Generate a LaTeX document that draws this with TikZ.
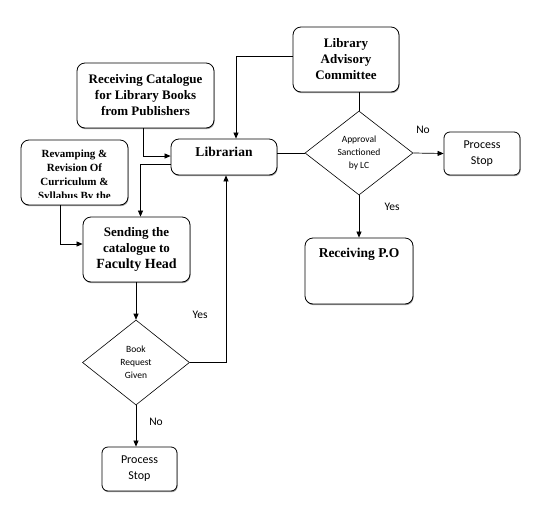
\documentclass[tikz,border=0pt]{standalone}
\usepackage{fontspec}
\setmainfont{Liberation Serif}
\newfontfamily\calib{Carlito}
\usetikzlibrary{shapes.geometric,arrows.meta,shadows}
\begin{document}
\begin{tikzpicture}[x=1pt,y=-1pt,
  box/.style={draw, rounded corners=8pt, line width=0.8pt, align=center, inner sep=0pt,
    font=\bfseries\fontsize{13}{16}\selectfont,
    drop shadow={shadow xshift=0.6pt, shadow yshift=-1.2pt, fill=black!55, opacity=0.7}, fill=white},
  sbox/.style={draw, rounded corners=6pt, line width=0.8pt, align=center, inner sep=0pt,
    font=\calib\fontsize{12}{16}\selectfont,
    drop shadow={shadow xshift=0.6pt, shadow yshift=-1.2pt, fill=black!55, opacity=0.7}, fill=white},
  dia/.style={draw, diamond, inner sep=0pt, line width=0.6pt, align=center,
    font=\calib\fontsize{9.5}{13}\selectfont},
  arr/.style={-{Triangle[length=6pt,width=5pt]}, line width=0.7pt},
  ln/.style={line width=0.7pt},
  lbl/.style={font=\calib\fontsize{11.5}{14}\selectfont, inner sep=0pt}]
\useasboundingbox (0,0) rectangle (536,512);

\node[box, minimum width=106, minimum height=65] (lac) at (346,59.5) {Library\\Advisory\\Committee};
\node[box, minimum width=137, minimum height=65] (rc) at (145.5,95.5) {Receiving Catalogue\\for Library Books\\from Publishers};
\node[box, minimum width=106, minimum height=36,
  label={[anchor=north, yshift=-5pt, font=\bfseries\fontsize{13.5}{16}\selectfont]north:Librarian}] (lib) at (224,157) {};
\node[box, minimum width=107, minimum height=65] (rev) at (74.5,172.5) {};
\begin{scope}
  \clip (rev.north west) rectangle ([yshift=7.5pt]rev.south east);
  \node[font=\bfseries\fontsize{11}{14}\selectfont, align=center, anchor=north, inner sep=0pt] (revt) at (74.5,150)
    {Revamping \&\\Revision Of\\Curriculum \&\\Syllabus By the};
\end{scope}
\node[box, minimum width=107, minimum height=65] (send) at (136.5,249.5) {Sending the\\catalogue to\\{\fontsize{14}{16}\selectfont Faculty Head}};
\node[dia, minimum width=107, minimum height=85] (bq) at (136,362.5) {Book\\Request\\Given};
\node[sbox, minimum width=75, minimum height=44] (ps1) at (139.5,469) {Process\\Stop};
\node[dia, minimum width=108, minimum height=84] (ap) at (359,153) {Approval\\Sanctioned\\by LC};
\node[sbox, minimum width=76, minimum height=43] (ps2) at (482,153.5) {Process\\Stop};
\node[box, minimum width=108, minimum height=66,
  label={[anchor=north, yshift=-7pt, font=\bfseries\fontsize{13.5}{16}\selectfont]north:Receiving P.O}] (po) at (359,271) {};

\draw[ln] (lac.south -| ap.north) -- (ap.north);
\draw[arr] ([yshift=3.5pt]lac.west) -| ([xshift=12pt]lib.north);
\draw[arr] ([xshift=-2.5pt]rc.south) |- ([yshift=1pt]lib.west);
\draw[arr] ([yshift=-7pt]lib.west) -| ([xshift=4pt]send.north);
\draw[arr] ([xshift=-14.5pt]rev.south) |- ([yshift=5.5pt]send.west);
\draw[arr] (send.south -| bq.north) -- (bq.north);
\draw[arr] (bq.east) -| ([xshift=2pt]lib.south);
\draw[arr] (bq.south) -- (bq.south |- ps1.north);
\draw[ln] (ap.west -| lib.east) -- (ap.west);
\draw[arr] (ap.east) -- (ps2.west);
\draw[arr] (ap.south) -- (ap.south |- po.north);

\node[lbl] (no2) at (423,130) {No};
\node[lbl] (yes2) at (392,207) {Yes};
\node[lbl] (yes1) at (200,315) {Yes};
\node[lbl] (no1) at (156,422) {No};
\end{tikzpicture}
\end{document}
